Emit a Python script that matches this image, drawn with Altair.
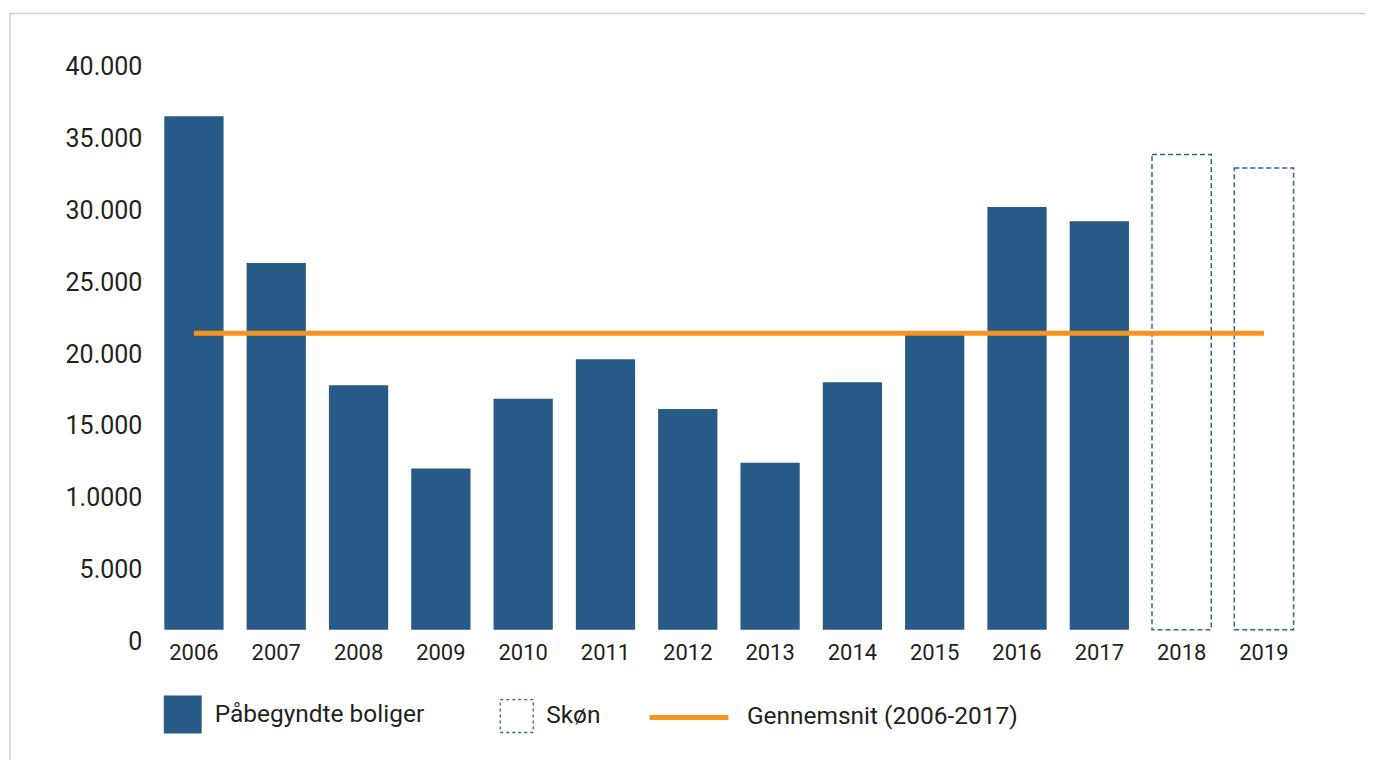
import altair as alt
import pandas as pd

years = ["2006", "2007", "2008", "2009", "2010", "2011", "2012",
         "2013", "2014", "2015", "2016", "2017", "2018", "2019"]
started_years = years[:12]
started_values = [35700, 25500, 17000, 11200, 16050, 18800,
                  15350, 11600, 17200, 20500, 29400, 28400]
estimate_years = ["2018", "2019"]
estimate_values = [33050, 32100]
average_value = 20620

y_ticks = [0, 5000, 10000, 15000, 20000, 25000, 30000, 35000, 40000]
y_labels = ["0", "5.000", "1.0000", "15.000", "20.000",
            "25.000", "30.000", "35.000", "40.000"]

label_started = "Påbegyndte boliger"
label_estimate = "Skøn"
label_average = "Gennemsnit (2006-2017)"

BLUE = "#275a87"
ORANGE = "#f7941d"
FONT = "Roboto"
TEXT = "#231f20"

df_bars = pd.DataFrame({"year": started_years, "value": started_values,
                        "series": [label_started] * len(started_years)})
df_est = pd.DataFrame({"year": estimate_years, "value": estimate_values,
                       "series": [label_estimate] * len(estimate_years)})
df_avg = pd.DataFrame({"year": years, "value": [average_value] * len(years),
                       "series": [label_average] * len(years)})

label_expr = " : ".join(
    [f"datum.value == {v} ? '{l}'" for v, l in zip(y_ticks, y_labels)]
) + " : ''"

x_enc = alt.X(
    "year:N", sort=years, title=None,
    scale=alt.Scale(domain=years, paddingInner=0.28, paddingOuter=0.14),
    axis=alt.Axis(labelAngle=0, ticks=False, domain=False, labelFont=FONT,
                  labelFontSize=22, labelColor=TEXT, labelPadding=13),
)
y_scale = alt.Scale(domain=[0, 40000], nice=False)
y_enc = alt.Y(
    "value:Q", title=None, scale=y_scale,
    axis=alt.Axis(values=y_ticks, labelExpr=label_expr, ticks=False, domain=False,
                  grid=False, labelFont=FONT, labelFontSize=25, labelColor=TEXT,
                  labelPadding=11, labelOffset=12),
)

legend_common = dict(title=None, orient="none", labelFont=FONT, labelFontSize=24.5,
                     labelColor=TEXT, padding=0, labelLimit=500)

bars = alt.Chart(df_bars).mark_bar(color=BLUE).encode(
    x=x_enc, y=y_enc,
    color=alt.Color("series:N", scale=alt.Scale(range=[BLUE]),
                    legend=alt.Legend(symbolType="square", symbolSize=1444,
                                      symbolStrokeWidth=0, labelOffset=13,
                                      legendX=11, legendY=642, **legend_common)),
)

est = alt.Chart(df_est).mark_bar(filled=False, strokeDash=[5, 3], strokeWidth=1.5).encode(
    x=x_enc, y=alt.Y("value:Q", scale=y_scale),
    color=alt.Color("series:N", scale=alt.Scale(range=["#2e6394"]),
                    legend=alt.Legend(symbolType="square", symbolSize=1089,
                                      symbolDash=[3, 3], symbolStrokeWidth=1.3,
                                      symbolFillColor="white", labelOffset=12,
                                      legendX=347, legendY=645, **legend_common)),
)

avg = alt.Chart(df_avg).mark_line(strokeWidth=5, strokeCap="butt").encode(
    x=x_enc, y=alt.Y("value:Q", scale=y_scale),
    color=alt.Color("series:N", scale=alt.Scale(range=[ORANGE]),
                    legend=alt.Legend(symbolType="stroke", symbolSize=6241,
                                      symbolStrokeWidth=5, labelOffset=16,
                                      legendX=495, legendY=622, **legend_common)),
)

frame_top = alt.Chart(df_avg.head(1)).mark_rule(color="#cfcfcf", strokeWidth=1.5).encode(
    x=alt.value(-143), x2=alt.value(1300), y=alt.value(-41)
)
frame_left = alt.Chart(df_avg.head(1)).mark_rule(color="#cfcfcf", strokeWidth=1.5).encode(
    x=alt.value(-143), y=alt.value(-41), y2=alt.value(800)
)

chart = alt.layer(bars, est, avg, frame_top, frame_left).resolve_scale(
    color="independent"
).properties(
    width=1154, height=576,
    background="white",
    autosize=alt.AutoSizeParams(type="none"),
    padding={"left": 145, "top": 46, "right": 60, "bottom": 130},
).configure_view(strokeWidth=0, stroke=None)

chart.save("out.html", embed_options={"renderer": "svg", "actions": False})
